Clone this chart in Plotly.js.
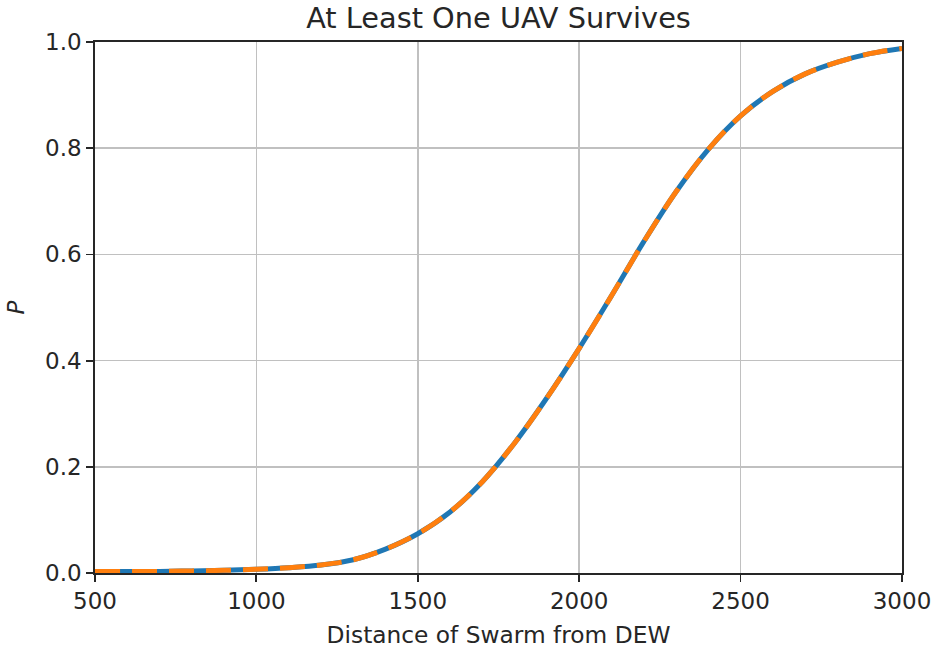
<!DOCTYPE html>
<html>
<head>
<meta charset="utf-8">
<script src="https://cdn.plot.ly/plotly-3.0.1.min.js"></script>
<style>
  html, body { margin: 0; padding: 0; background: #fff; }
  #chart { width: 937px; height: 648px; }
</style>
</head>
<body>
<div id="chart"></div>
<script>
  // Distance of swarm from the DEW (x) and probability at least one UAV survives.
  const distance = [500, 600, 700, 800, 900, 1000, 1100, 1200, 1300, 1400, 1500, 1600, 1700,
                    1800, 1900, 2000, 2100, 2200, 2300, 2400, 2500, 2600, 2700, 2800, 2900, 3000];
  // analytic curve (blue, solid)
  const pAnalytic = [0.003, 0.003, 0.003, 0.004, 0.005, 0.007, 0.010, 0.015, 0.025, 0.045, 0.074, 0.115, 0.172,
                     0.245, 0.330, 0.423, 0.522, 0.624, 0.718, 0.798, 0.861, 0.907, 0.940, 0.962, 0.978, 0.988];
  // second estimate (orange, dashed) – sits on top of the first
  const pEstimate = [0.003, 0.003, 0.003, 0.004, 0.005, 0.007, 0.010, 0.015, 0.025, 0.045, 0.074, 0.115, 0.172,
                     0.245, 0.330, 0.423, 0.522, 0.624, 0.718, 0.798, 0.861, 0.907, 0.940, 0.962, 0.978, 0.988];
  const xTicks = [500, 1000, 1500, 2000, 2500, 3000];
  const yTicks = [0, 0.2, 0.4, 0.6, 0.8, 1.0];

  const FONT = "DejaVu Sans, sans-serif";
  const INK = "#262626";
  const GRID = "#c0c0c0";

  const axisBase = {
    showline: true, linecolor: INK, linewidth: 1.8, mirror: true,
    ticks: "outside", ticklen: 7, tickwidth: 1.8, tickcolor: INK,
    showgrid: true, gridcolor: GRID, gridwidth: 1.6,
    zeroline: false,
    tickfont: { family: FONT, size: 23, color: INK },
  };

  Plotly.newPlot("chart", [
    { type: "scatter", mode: "lines", x: distance, y: pAnalytic,
      line: { color: "#1f77b4", width: 5, shape: "spline", smoothing: 1 } },
    { type: "scatter", mode: "lines", x: distance, y: pEstimate,
      line: { color: "#ff7f0e", width: 5, dash: "25px,12px", shape: "spline", smoothing: 1 } },
  ], {
    width: 937, height: 648,
    paper_bgcolor: "#fff", plot_bgcolor: "#fff",
    showlegend: false,
    margin: { l: 95, r: 35, t: 42, b: 75 },
    title: {
      text: "At Least One UAV Survives",
      font: { family: FONT, size: 28.8, color: INK },
      x: 0.5, xref: "paper", xanchor: "center",
      y: 0.972, yref: "container", yanchor: "middle",
    },
    xaxis: {
      ...axisBase,
      range: [500, 3000], tickvals: xTicks,
      title: { text: "Distance of Swarm from DEW", font: { family: FONT, size: 23.3, color: INK }, standoff: 13 },
    },
    yaxis: {
      ...axisBase,
      range: [0, 1], tickvals: yTicks, tickformat: ".1f",
      title: { text: "<i>P</i>", font: { family: FONT, size: 23, color: INK }, standoff: 14 },
    },
  }, { staticPlot: true });
</script>
</body>
</html>
